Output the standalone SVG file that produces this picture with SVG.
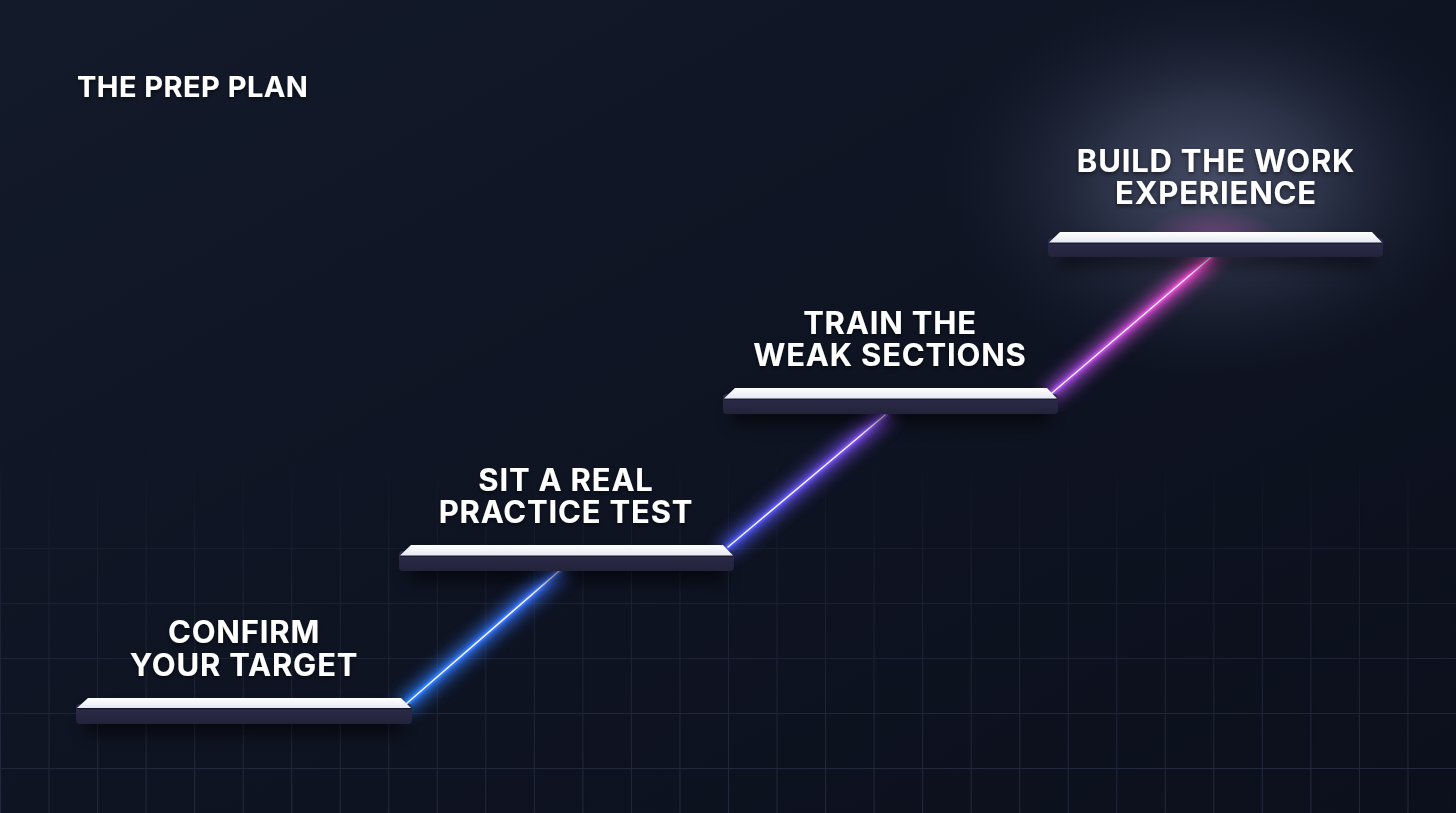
<svg xmlns="http://www.w3.org/2000/svg" width="1456" height="813" viewBox="0 0 1456 813">
  <style>
    .lbl { font-family: Inter, "Noto Sans", "Liberation Sans", sans-serif; font-weight: 700; font-size: 31px; letter-spacing: 0.8px; fill: #ffffff; text-anchor: middle; }
    .title { font-family: Inter, "Noto Sans", "Liberation Sans", sans-serif; font-weight: 700; font-size: 29px; letter-spacing: 0.45px; fill: #ffffff; }
    .face { fill: url(#topFace); }
    .front { fill: url(#frontFace); }
    .seam { fill: #16162a; }
    .shadow { fill: #000000; }
  </style>
  <defs>
    <linearGradient id="bg" x1="0" y1="0" x2="1" y2="1">
      <stop offset="0" stop-color="#131a2a"/>
      <stop offset="0.5" stop-color="#0f1423"/>
      <stop offset="1" stop-color="#0c101c"/>
    </linearGradient>
    <radialGradient id="topGlow" cx="0.5" cy="0.5" r="0.5">
      <stop offset="0" stop-color="#454b63" stop-opacity="1"/>
      <stop offset="0.4" stop-color="#2f354b" stop-opacity="0.9"/>
      <stop offset="0.75" stop-color="#1c2234" stop-opacity="0.5"/>
      <stop offset="1" stop-color="#131a2a" stop-opacity="0"/>
    </radialGradient>
    <radialGradient id="pinkGlow" cx="0.5" cy="0.5" r="0.5">
      <stop offset="0" stop-color="#a04a9a" stop-opacity="0.55"/>
      <stop offset="1" stop-color="#a04a9a" stop-opacity="0"/>
    </radialGradient>
    <pattern id="grid" x="0" y="53" width="48.533" height="55" patternUnits="userSpaceOnUse">
      <path d="M0 0.5 H48.533 M0.5 0 V55" fill="none" stroke="#232a3c" stroke-width="1"/>
    </pattern>
    <linearGradient id="gridFade" x1="0" y1="450" x2="0" y2="813" gradientUnits="userSpaceOnUse">
      <stop offset="0" stop-color="#fff" stop-opacity="0"/>
      <stop offset="0.35" stop-color="#fff" stop-opacity="0.6"/>
      <stop offset="1" stop-color="#fff" stop-opacity="1"/>
    </linearGradient>
    <mask id="gridMask">
      <rect x="0" y="0" width="1456" height="813" fill="url(#gridFade)"/>
    </mask>
    <linearGradient id="beam" x1="406" y1="704" x2="1210" y2="258" gradientUnits="userSpaceOnUse">
      <stop offset="0" stop-color="#2a7af2"/>
      <stop offset="0.2" stop-color="#3a6cf0"/>
      <stop offset="0.4" stop-color="#4a55ea"/>
      <stop offset="0.6" stop-color="#7e4ae2"/>
      <stop offset="0.8" stop-color="#a24ada"/>
      <stop offset="1" stop-color="#ee46c4"/>
    </linearGradient>
    <linearGradient id="topFace" x1="0" y1="0" x2="0" y2="1">
      <stop offset="0" stop-color="#ffffff"/>
      <stop offset="1" stop-color="#e6e9f2"/>
    </linearGradient>
    <linearGradient id="frontFace" x1="0" y1="0" x2="0" y2="1">
      <stop offset="0" stop-color="#2d2c4c"/>
      <stop offset="1" stop-color="#23233b"/>
    </linearGradient>
    <filter id="blur8" x="-30%" y="-30%" width="160%" height="160%">
      <feGaussianBlur stdDeviation="8"/>
    </filter>
    <filter id="blur3" x="-20%" y="-20%" width="140%" height="140%">
      <feGaussianBlur stdDeviation="2.5"/>
    </filter>
    <filter id="shadow" x="-20%" y="-100%" width="140%" height="400%">
      <feGaussianBlur stdDeviation="8"/>
    </filter>
    <filter id="txtShadow" x="-10%" y="-30%" width="120%" height="160%">
      <feDropShadow dx="0" dy="2" stdDeviation="2" flood-color="#000000" flood-opacity="0.55"/>
    </filter>
  </defs>

  <!-- background -->
  <rect x="0" y="0" width="1456" height="813" fill="url(#bg)"/>
  <ellipse cx="1215" cy="180" rx="280" ry="200" fill="url(#topGlow)"/>
  <rect x="0" y="0" width="1456" height="813" fill="url(#grid)" mask="url(#gridMask)"/>

  <!-- title -->
  <text id="title" class="title" x="77" y="97" filter="url(#txtShadow)">THE PREP PLAN</text>

  <!-- connectors -->
  <g id="connectors" stroke-linecap="round">
    <g opacity="0.85" filter="url(#blur8)" stroke="url(#beam)" stroke-width="16">
      <line x1="406" y1="704" x2="559" y2="571"/>
      <line x1="728" y1="547" x2="885" y2="415"/>
      <line x1="1052" y1="393" x2="1210" y2="258"/>
    </g>
    <g opacity="0.9" filter="url(#blur3)" stroke="url(#beam)" stroke-width="7">
      <line x1="406" y1="704" x2="559" y2="571"/>
      <line x1="728" y1="547" x2="885" y2="415"/>
      <line x1="1052" y1="393" x2="1210" y2="258"/>
    </g>
    <g stroke="url(#beam)" stroke-width="5.5">
      <line x1="406" y1="704" x2="559" y2="571"/>
      <line x1="728" y1="547" x2="885" y2="415"/>
      <line x1="1052" y1="393" x2="1210" y2="258"/>
    </g>
    <g stroke="#f6f2ff" stroke-width="1.6">
      <line x1="406" y1="704" x2="559" y2="571"/>
      <line x1="728" y1="547" x2="885" y2="415"/>
      <line x1="1052" y1="393" x2="1210" y2="258"/>
    </g>
  </g>
  <ellipse cx="1212" cy="238" rx="70" ry="30" fill="url(#pinkGlow)"/>

  <!-- step 1 -->
  <g id="step1">
    <rect class="shadow" x="86" y="712" width="316" height="22" opacity="0.55" filter="url(#shadow)"/>
    <rect class="front" x="76" y="704" width="336" height="20" rx="4"/>
    <rect class="seam" x="77" y="708" width="334" height="1.2"/>
    <path class="face" d="M88 698 H401 L411 708 H77 Z"/>
    <text class="lbl" filter="url(#txtShadow)"><tspan x="244" y="643">CONFIRM</tspan><tspan x="244" y="676">YOUR TARGET</tspan></text>
  </g>

  <!-- step 2 -->
  <g id="step2">
    <rect class="shadow" x="409" y="559" width="316" height="22" opacity="0.55" filter="url(#shadow)"/>
    <rect class="front" x="399" y="551" width="335" height="20" rx="4"/>
    <rect class="seam" x="400" y="555.5" width="333" height="1.2"/>
    <path class="face" d="M411 545 H723 L733 555.5 H400 Z"/>
    <text class="lbl" filter="url(#txtShadow)"><tspan x="566" y="491">SIT A REAL</tspan><tspan x="566" y="523">PRACTICE TEST</tspan></text>
  </g>

  <!-- step 3 -->
  <g id="step3">
    <rect class="shadow" x="733" y="402" width="316" height="22" opacity="0.55" filter="url(#shadow)"/>
    <rect class="front" x="723" y="394" width="335" height="20" rx="4"/>
    <rect class="seam" x="724" y="398.5" width="333" height="1.2"/>
    <path class="face" d="M735 388 H1047 L1057 398.5 H724 Z"/>
    <text class="lbl" filter="url(#txtShadow)"><tspan x="890" y="334">TRAIN THE</tspan><tspan x="890" y="366">WEAK SECTIONS</tspan></text>
  </g>

  <!-- step 4 -->
  <g id="step4">
    <rect class="shadow" x="1058" y="245" width="316" height="22" opacity="0.45" filter="url(#shadow)"/>
    <rect class="front" x="1048" y="238" width="335" height="19" rx="4"/>
    <rect class="seam" x="1049" y="242.5" width="333" height="1.2"/>
    <path class="face" d="M1060 232 H1372 L1382 242.5 H1049 Z"/>
    <text class="lbl" filter="url(#txtShadow)"><tspan x="1216" y="172">BUILD THE WORK</tspan><tspan x="1216" y="204">EXPERIENCE</tspan></text>
  </g>
</svg>
